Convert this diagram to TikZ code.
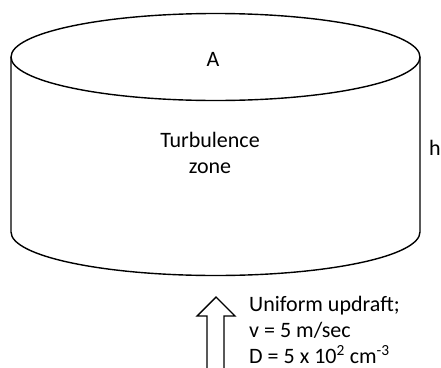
\documentclass[tikz,border=0pt]{standalone}
\usepackage{fontspec}
\setmainfont{Carlito}
\begin{document}
\begin{tikzpicture}[x=1pt,y=-1pt,
  outline/.style={line width=1.4pt,black},
  lbl/.style={font=\fontsize{22}{26}\selectfont,inner sep=0pt},
  lblleft/.style={lbl,anchor=base west,align=left}]
\useasboundingbox (0,0) rectangle (441,367);
% cylinder
\coordinate (tl) at (11,57);
\coordinate (tr) at (420,57);
\coordinate (bl) at (11,232);
\coordinate (br) at (420,232);
\draw[outline] (215.5,57) ellipse [x radius=204.5, y radius=43.5];
\draw[outline] (tl) -- (bl) arc[start angle=180, end angle=360, x radius=204.5, y radius=-43.5] -- (tr);
% labels
\node[lbl] (a) at (213,59) {A};
\node[lbl,align=center,anchor=base] (tz) at (210,173) {Turbulence\\zone};
\node[lbl,anchor=base west] (h) at (429,155) {h};
% block arrow
\draw[outline,fill=white] (207,368) -- (207,316) -- (197,316) -- (216,297) -- (235,316) -- (224,316) -- (224,368);
\coordinate (arrowtip) at (216,297);
\node[lblleft] (u1) at (249,311) {Uniform updraft;};
\node[lblleft] (u2) at (249,337) {v = 5 m/sec};
\node[lblleft] (u3) at (249,363) {D = 5 x 10\textsuperscript{2} cm\textsuperscript{-3}};
\end{tikzpicture}
\end{document}
